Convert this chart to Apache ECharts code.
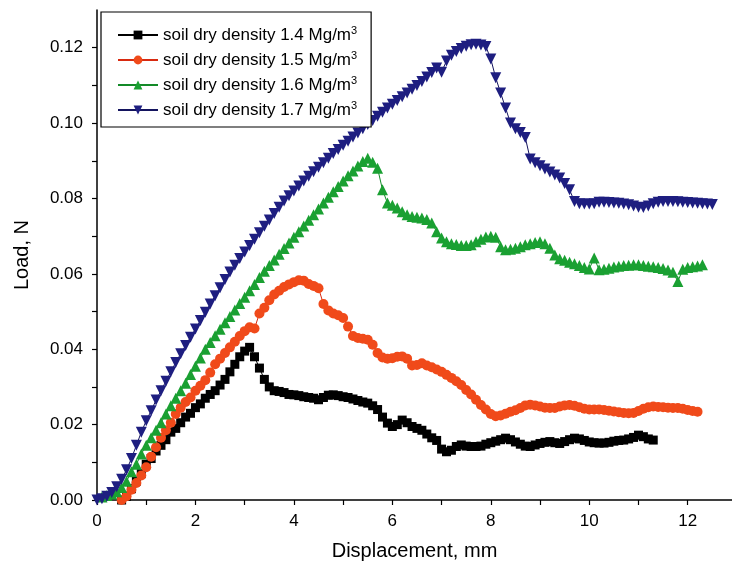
<!DOCTYPE html>
<html><head><meta charset="utf-8">
<script src="https://cdn.jsdelivr.net/npm/echarts@6/dist/echarts.min.js"></script>
<style>html,body{margin:0;padding:0;background:#fff}#c{width:732px;height:574px}</style>
</head><body><div id="c"></div>
<script>
const seriesNames = ['soil dry density 1.4 Mg/m³','soil dry density 1.5 Mg/m³','soil dry density 1.6 Mg/m³','soil dry density 1.7 Mg/m³'];
const xTickValues = [0,1,2,3,4,5,6,7,8,9,10,11,12];
const xLabelValues = [0,2,4,6,8,10,12];
const yTickValues = [0,0.01,0.02,0.03,0.04,0.05,0.06,0.07,0.08,0.09,0.10,0.11,0.12];
const yLabelValues = [0,0.02,0.04,0.06,0.08,0.10,0.12];

const d14 = [[0.5,0.000],[0.6,0.001],[0.7,0.003],[0.8,0.005],[0.9,0.007],[1.0,0.0095],[1.1,0.011],[1.2,0.013],[1.3,0.0145],[1.4,0.016],[1.5,0.018],[1.6,0.019],[1.7,0.0205],[1.8,0.022],[1.9,0.023],[2.0,0.0245],[2.1,0.0255],[2.2,0.027],[2.3,0.028],[2.4,0.029],[2.5,0.0305],[2.6,0.032],[2.7,0.034],[2.8,0.036],[2.9,0.038],[3.0,0.0395],[3.1,0.0405],[3.2,0.038],[3.3,0.035],[3.4,0.032],[3.5,0.030],[3.6,0.029],[3.7,0.0288],[3.8,0.0285],[3.9,0.028],[4.0,0.0279],[4.1,0.0277],[4.2,0.0274],[4.3,0.0272],[4.4,0.027],[4.5,0.0266],[4.6,0.0272],[4.7,0.0278],[4.8,0.0279],[4.9,0.0277],[5.0,0.0274],[5.1,0.0272],[5.2,0.0268],[5.3,0.0264],[5.4,0.026],[5.5,0.0257],[5.6,0.025],[5.7,0.024],[5.8,0.022],[5.9,0.0204],[6.0,0.0195],[6.1,0.020],[6.2,0.0212],[6.3,0.0205],[6.4,0.0195],[6.5,0.019],[6.6,0.0185],[6.7,0.0175],[6.8,0.0165],[6.9,0.0158],[7.0,0.0135],[7.1,0.0128],[7.2,0.0132],[7.3,0.0142],[7.4,0.0146],[7.5,0.0143],[7.6,0.0142],[7.7,0.0142],[7.8,0.0143],[7.9,0.0148],[8.0,0.0152],[8.1,0.0156],[8.2,0.016],[8.3,0.0164],[8.4,0.016],[8.5,0.0154],[8.6,0.0148],[8.7,0.0143],[8.8,0.0142],[8.9,0.0146],[9.0,0.015],[9.1,0.0153],[9.2,0.0155],[9.3,0.0152],[9.4,0.015],[9.5,0.0155],[9.6,0.016],[9.7,0.0164],[9.8,0.0162],[9.9,0.0158],[10.0,0.0154],[10.1,0.0152],[10.2,0.0151],[10.3,0.0151],[10.4,0.0153],[10.5,0.0156],[10.6,0.0158],[10.7,0.0159],[10.8,0.0162],[10.9,0.0166],[11.0,0.0172],[11.1,0.0168],[11.2,0.0162],[11.3,0.0159]];

const d15 = [[0.5,0.000],[0.6,0.001],[0.7,0.0027],[0.8,0.0045],[0.9,0.0065],[1.0,0.0087],[1.1,0.0115],[1.2,0.014],[1.3,0.0165],[1.4,0.0185],[1.5,0.0205],[1.6,0.0228],[1.7,0.0245],[1.8,0.026],[1.9,0.0272],[2.0,0.029],[2.1,0.0303],[2.2,0.0318],[2.3,0.0338],[2.4,0.036],[2.5,0.0375],[2.6,0.039],[2.7,0.0405],[2.8,0.042],[2.9,0.0435],[3.0,0.0448],[3.1,0.0458],[3.2,0.0455],[3.3,0.0495],[3.4,0.051],[3.5,0.053],[3.6,0.0545],[3.7,0.0555],[3.8,0.0565],[3.9,0.0572],[4.0,0.0578],[4.1,0.0583],[4.2,0.0582],[4.3,0.0573],[4.4,0.0568],[4.5,0.0562],[4.6,0.052],[4.7,0.0503],[4.8,0.0495],[4.9,0.049],[5.0,0.0483],[5.1,0.046],[5.2,0.0435],[5.3,0.043],[5.4,0.0428],[5.5,0.0425],[5.6,0.0412],[5.7,0.039],[5.8,0.0378],[5.9,0.0375],[6.0,0.0376],[6.1,0.038],[6.2,0.0381],[6.3,0.0375],[6.4,0.0357],[6.5,0.0358],[6.6,0.0363],[6.7,0.0357],[6.8,0.0352],[6.9,0.0346],[7.0,0.034],[7.1,0.0332],[7.2,0.0324],[7.3,0.0315],[7.4,0.0305],[7.5,0.0292],[7.6,0.028],[7.7,0.0266],[7.8,0.0252],[7.9,0.024],[8.0,0.0228],[8.1,0.0222],[8.2,0.0224],[8.3,0.0229],[8.4,0.0234],[8.5,0.0238],[8.6,0.0244],[8.7,0.0251],[8.8,0.0253],[8.9,0.0251],[9.0,0.0248],[9.1,0.0245],[9.2,0.0244],[9.3,0.0244],[9.4,0.0248],[9.5,0.0251],[9.6,0.0252],[9.7,0.025],[9.8,0.0246],[9.9,0.0242],[10.0,0.024],[10.1,0.024],[10.2,0.024],[10.3,0.0239],[10.4,0.0237],[10.5,0.0235],[10.6,0.0233],[10.7,0.0231],[10.8,0.023],[10.9,0.0231],[11.0,0.0236],[11.1,0.0242],[11.2,0.0246],[11.3,0.0248],[11.4,0.0247],[11.5,0.0246],[11.6,0.0245],[11.7,0.0244],[11.8,0.0244],[11.9,0.0242],[12.0,0.0239],[12.1,0.0236],[12.2,0.0234]];

const d16 = [[0.1,0.0008],[0.2,0.0012],[0.3,0.0016],[0.4,0.0022],[0.5,0.0033],[0.6,0.005],[0.7,0.0075],[0.8,0.0095],[0.9,0.0122],[1.0,0.0145],[1.1,0.0165],[1.2,0.0185],[1.3,0.0205],[1.4,0.0228],[1.5,0.025],[1.6,0.027],[1.7,0.029],[1.8,0.031],[1.9,0.0333],[2.0,0.0355],[2.1,0.0377],[2.2,0.040],[2.3,0.0418],[2.4,0.0436],[2.5,0.0453],[2.6,0.047],[2.7,0.0487],[2.8,0.0504],[2.9,0.0521],[3.0,0.0538],[3.1,0.0555],[3.2,0.0572],[3.3,0.059],[3.4,0.0607],[3.5,0.0622],[3.6,0.0637],[3.7,0.0652],[3.8,0.0667],[3.9,0.0682],[4.0,0.0697],[4.1,0.0712],[4.2,0.0727],[4.3,0.0742],[4.4,0.0757],[4.5,0.0772],[4.6,0.0788],[4.7,0.0803],[4.8,0.0818],[4.9,0.0832],[5.0,0.0846],[5.1,0.086],[5.2,0.0873],[5.3,0.0886],[5.4,0.0898],[5.5,0.0907],[5.6,0.0896],[5.7,0.088],[5.8,0.0823],[5.9,0.0788],[6.0,0.0782],[6.1,0.0775],[6.2,0.0765],[6.3,0.0757],[6.4,0.0752],[6.5,0.075],[6.6,0.0748],[6.7,0.0744],[6.8,0.0735],[6.9,0.0712],[7.0,0.0695],[7.1,0.0685],[7.2,0.068],[7.3,0.0678],[7.4,0.0675],[7.5,0.0675],[7.6,0.0677],[7.7,0.0685],[7.8,0.0692],[7.9,0.0698],[8.0,0.07],[8.1,0.0697],[8.2,0.0672],[8.3,0.0664],[8.4,0.0665],[8.5,0.0668],[8.6,0.0672],[8.7,0.0677],[8.8,0.068],[8.9,0.0683],[9.0,0.0685],[9.1,0.068],[9.2,0.0668],[9.3,0.065],[9.4,0.064],[9.5,0.0636],[9.6,0.0631],[9.7,0.0627],[9.8,0.0622],[9.9,0.0617],[10.0,0.0613],[10.1,0.0642],[10.2,0.0611],[10.3,0.0612],[10.4,0.0615],[10.5,0.0618],[10.6,0.062],[10.7,0.0622],[10.8,0.0623],[10.9,0.0624],[11.0,0.0624],[11.1,0.0622],[11.2,0.062],[11.3,0.0619],[11.4,0.0617],[11.5,0.0614],[11.6,0.061],[11.7,0.0604],[11.8,0.058],[11.9,0.0612],[12.0,0.0617],[12.1,0.0619],[12.2,0.0621],[12.3,0.0624]];

const d17 = [[0.0,0.0],[0.1,0.0003],[0.2,0.001],[0.3,0.002],[0.4,0.0035],[0.5,0.0055],[0.6,0.008],[0.7,0.011],[0.8,0.0145],[0.9,0.018],[1.0,0.021],[1.1,0.0237],[1.2,0.0265],[1.3,0.029],[1.4,0.0315],[1.5,0.034],[1.6,0.0365],[1.7,0.0388],[1.8,0.041],[1.9,0.0432],[2.0,0.0454],[2.1,0.0476],[2.2,0.0498],[2.3,0.052],[2.4,0.0542],[2.5,0.0563],[2.6,0.0585],[2.7,0.0605],[2.8,0.0623],[2.9,0.0641],[3.0,0.0658],[3.1,0.0675],[3.2,0.0692],[3.3,0.0709],[3.4,0.0726],[3.5,0.0743],[3.6,0.076],[3.7,0.0777],[3.8,0.0793],[3.9,0.0807],[4.0,0.082],[4.1,0.0833],[4.2,0.0846],[4.3,0.0859],[4.4,0.0871],[4.5,0.0883],[4.6,0.0895],[4.7,0.0907],[4.8,0.0919],[4.9,0.093],[5.0,0.0941],[5.1,0.0952],[5.2,0.0963],[5.3,0.0974],[5.4,0.0985],[5.5,0.0996],[5.6,0.1007],[5.7,0.1018],[5.8,0.1029],[5.9,0.104],[6.0,0.105],[6.1,0.106],[6.2,0.107],[6.3,0.108],[6.4,0.109],[6.5,0.110],[6.6,0.111],[6.7,0.1122],[6.8,0.1134],[6.9,0.1146],[7.0,0.1135],[7.1,0.1165],[7.2,0.118],[7.3,0.119],[7.4,0.1198],[7.5,0.1204],[7.6,0.1208],[7.7,0.1209],[7.8,0.1207],[7.9,0.1203],[8.0,0.117],[8.1,0.112],[8.2,0.108],[8.3,0.104],[8.4,0.100],[8.5,0.0985],[8.6,0.0975],[8.7,0.0962],[8.8,0.0905],[8.9,0.0895],[9.0,0.0887],[9.1,0.0878],[9.2,0.087],[9.3,0.0862],[9.4,0.0854],[9.5,0.084],[9.6,0.0823],[9.7,0.0792],[9.8,0.0786],[9.9,0.0785],[10.0,0.0785],[10.1,0.0786],[10.2,0.079],[10.3,0.079],[10.4,0.0789],[10.5,0.0788],[10.6,0.0787],[10.7,0.0785],[10.8,0.0783],[10.9,0.078],[11.0,0.0777],[11.1,0.0776],[11.2,0.078],[11.3,0.0786],[11.4,0.079],[11.5,0.0792],[11.6,0.0792],[11.7,0.0792],[11.8,0.0791],[11.9,0.079],[12.0,0.0789],[12.1,0.0788],[12.2,0.0787],[12.3,0.0786],[12.4,0.0785],[12.5,0.0784]];

const chart = echarts.init(document.getElementById('c'), null, {renderer:'canvas'});
const FONT = 'Liberation Sans, Arial, sans-serif';
const colors = ['#000000','#f04a1a','#1aa032','#1e1e80'];
const lineColors = ['#000000','#d82a10','#138a28','#14145e'];
const symbols = ['rect','circle','triangle','triangle'];
const rotates = [0,0,0,180];
const sizes = [9,10,11,11];
const datas = [d14,d15,d16,d17];

const series = datas.map((d,i)=>({
  name: seriesNames[i], type:'line', data:d,
  symbol: symbols[i], symbolSize: sizes[i], symbolRotate: rotates[i],
  showAllSymbol: true, animation:false,
  itemStyle:{color:colors[i], borderWidth:0},
  lineStyle:{color:lineColors[i], width:1}
}));

chart.setOption({
  backgroundColor:'#fff',
  animation:false,
  grid:{left:97, right:0, top:10, bottom:74, containLabel:false},
  legend:{
    orient:'vertical', left:101, top:12,
    data: seriesNames,
    itemWidth:40, itemHeight:11, itemGap:5,
    padding:[13,14,7,16],
    borderColor:'#000', borderWidth:1.2, backgroundColor:'#fff',
    formatter: n => n.replace('³','{sup|3}'),
    textStyle:{fontFamily:FONT, fontSize:17, color:'#000', lineHeight:20,
      rich:{sup:{fontSize:11, fontFamily:FONT, color:'#000', verticalAlign:'top', lineHeight:11}}}
  },
  xAxis:{
    type:'value', min:0, max:12.9,
    name:'Displacement, mm', nameLocation:'middle', nameGap:41,
    nameTextStyle:{fontFamily:FONT, fontSize:20, color:'#000'},
    axisLine:{show:true, onZero:false, lineStyle:{color:'#000', width:1.5}},
    axisTick:{show:true, inside:false, length:5, customValues:xTickValues, lineStyle:{color:'#000', width:1.2}},
    axisLabel:{customValues:xLabelValues, fontFamily:FONT, fontSize:17, color:'#000', margin:13},
    splitLine:{show:false}
  },
  yAxis:{
    type:'value', min:0, max:0.13,
    name:'Load, N', nameLocation:'middle', nameGap:65,
    nameTextStyle:{fontFamily:FONT, fontSize:20, color:'#000'},
    axisLine:{show:true, onZero:false, lineStyle:{color:'#000', width:1.5}},
    axisTick:{show:true, inside:false, length:5, customValues:yTickValues, lineStyle:{color:'#000', width:1.2}},
    axisLabel:{customValues:yLabelValues, fontFamily:FONT, fontSize:17, color:'#000', margin:14,
      formatter: v => v.toFixed(2)},
    splitLine:{show:false}
  },
  series: series
});
</script></body></html>
